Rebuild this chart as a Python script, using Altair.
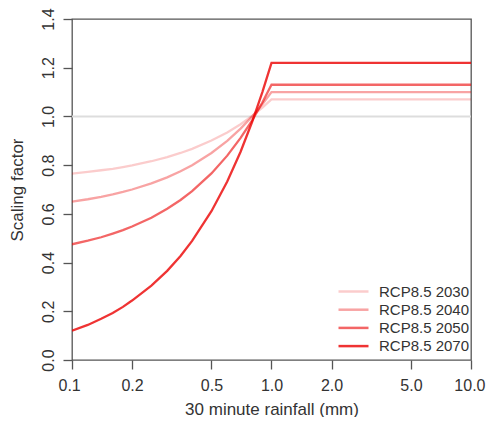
import altair as alt
import pandas as pd

# rainfall (mm) sample points
rain = [0.1, 0.12, 0.14, 0.16, 0.18, 0.2, 0.25, 0.3, 0.35, 0.4, 0.5, 0.6, 0.7, 0.8, 0.9, 1.0, 10.0]

s2030 = [0.765, 0.772, 0.779, 0.785, 0.792, 0.799, 0.816, 0.833, 0.850, 0.867, 0.901, 0.934, 0.968, 1.002, 1.036, 1.07, 1.07]
s2040 = [0.65, 0.66, 0.67, 0.68, 0.69, 0.70, 0.725, 0.75, 0.775, 0.80, 0.85, 0.90, 0.95, 1.00, 1.05, 1.10, 1.10]
s2050 = [0.475, 0.490, 0.504, 0.519, 0.533, 0.548, 0.584, 0.621, 0.657, 0.693, 0.766, 0.839, 0.912, 0.984, 1.057, 1.13, 1.13]
s2070 = [0.12, 0.144, 0.169, 0.193, 0.218, 0.244, 0.305, 0.366, 0.427, 0.489, 0.611, 0.733, 0.855, 0.978, 1.10, 1.22, 1.22]

series_names = ["RCP8.5 2030", "RCP8.5 2040", "RCP8.5 2050", "RCP8.5 2070"]
series_colors = ["rgba(235,0,0,0.2)", "rgba(235,0,0,0.36)", "rgba(235,0,0,0.6)", "rgba(235,0,0,0.8)"]

x_ticks = [0.1, 0.2, 0.5, 1.0, 2.0, 5.0, 10.0]
y_ticks = [0.0, 0.2, 0.4, 0.6, 0.8, 1.0, 1.2, 1.4]
ref_level = [1.0]

rows = []
for name, vals in zip(series_names, [s2030, s2040, s2050, s2070]):
    for i, (xv, yv) in enumerate(zip(rain, vals)):
        rows.append({"rain": xv, "factor": yv, "series": name, "order": i})
df = pd.DataFrame(rows)
ref_df = pd.DataFrame({"y": ref_level})

FONT = "Liberation Sans"

xscale = alt.Scale(type="log", domain=[0.1, 10], nice=False)
yscale = alt.Scale(domain=[0, 1.4], nice=False, zero=False)

ref = alt.Chart(ref_df).mark_rule(color="#dddddd", strokeWidth=2).encode(
    y=alt.Y("y:Q", scale=yscale)
)

lines = alt.Chart(df).mark_line(strokeWidth=2.3, clip=True).encode(
    x=alt.X("rain:Q", scale=xscale,
            axis=alt.Axis(values=x_ticks, format=".1f", title="30 minute rainfall (mm)",
                          titleX=199.5, titleY=49, titleBaseline="middle",
                          labelFlush=True, labelFlushOffset=14, labelPadding=8, tickSize=9)),
    y=alt.Y("factor:Q", scale=yscale,
            axis=alt.Axis(values=y_ticks, format=".1f", title="Scaling factor",
                          labelAngle=270, labelAlign="center", labelBaseline="bottom",
                          labelFlush=False,
                          titleX=-55, titleY=170.5, titleBaseline="middle", titleAngle=270,
                          labelPadding=7, tickSize=9)),
    color=alt.Color("series:N",
                    scale=alt.Scale(domain=series_names, range=series_colors),
                    legend=alt.Legend(title=None, orient="none", legendX=274, legendY=265,
                                      symbolType="M-3,0H3", symbolSize=100,
                                      symbolStrokeWidth=2.5, labelOffset=18,
                                      rowPadding=2.2, padding=0, labelFontSize=15,
                                      labelFont=FONT, labelColor="#333333")),
    order=alt.Order("order:Q"),
)

chart = alt.layer(ref, lines).properties(
    width=399, height=341,
    autosize=alt.AutoSizeParams(type="none"),
    padding={"left": 64, "top": 11, "right": 15, "bottom": 57},
).configure_view(
    stroke="#555555", strokeWidth=1.3
).configure_axis(
    domain=False, grid=False, labelFont=FONT, titleFont=FONT,
    labelFontSize=16, titleFontSize=17, labelColor="#333333", titleColor="#333333",
    titleFontWeight="normal", tickColor="#555555", tickWidth=1.3,
)

chart.save("out.html", embed_options={"renderer": "svg", "actions": False})
